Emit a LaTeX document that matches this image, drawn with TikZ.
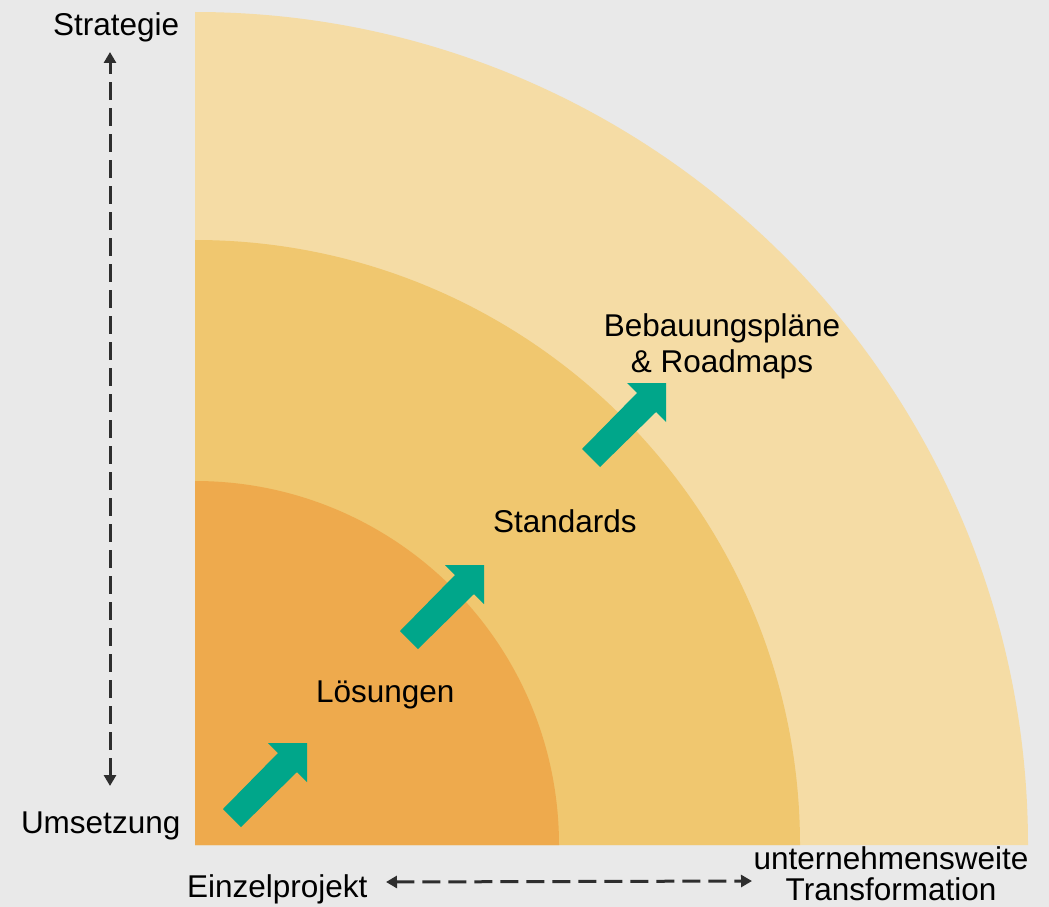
\documentclass[tikz,border=0pt]{standalone}
\usepackage{fontspec}
\setmainfont{Liberation Sans}
\usetikzlibrary{arrows.meta}
\definecolor{bgc}{HTML}{E9E9E9}
\definecolor{ringouter}{HTML}{F5DCA5}
\definecolor{ringmid}{HTML}{F0C76F}
\definecolor{ringinner}{HTML}{EEAA4D}
\definecolor{arrowteal}{HTML}{00A68A}
\definecolor{axisgray}{HTML}{2E2E2E}
\tikzset{
  lbl/.style={inner sep=0pt, outer sep=0pt, anchor=base west, font=\fontsize{31.5}{37}\selectfont},
  lblc/.style={lbl, anchor=base},
  axis/.style={draw=axisgray, line width=3pt, dash pattern=on 18pt off 8pt,
    {Triangle[length=11pt,width=12pt]}-{Triangle[length=11pt,width=12pt]}},
  growarrow/.pic={
    \fill[arrowteal] (-84,-66) -- (-29,-10) -- (-39,0) -- (0,0) -- (0,-39)
      -- (-10,-29) -- (-66,-84) -- cycle;
  }
}
\begin{document}
\begin{tikzpicture}[x=1pt,y=1pt]
  % canvas
  \fill[bgc] (0,0) rectangle (1049,-907);
  \useasboundingbox (0,0) rectangle (1049,-907);

  % nested quarter discs around the corner
  \coordinate (O) at (195,-845);
  \fill[ringouter] (O) -- ++(833,0) arc[start angle=0,end angle=90,radius=833] -- cycle;
  \fill[ringmid]   (O) -- ++(605,0) arc[start angle=0,end angle=90,radius=605] -- cycle;
  \fill[ringinner] (O) -- ++(364,0) arc[start angle=0,end angle=90,radius=364] -- cycle;

  % growth arrows
  \pic at (307,-743) {growarrow};
  \pic at (484,-565) {growarrow};
  \pic at (666,-383) {growarrow};

  % ring labels
  \node[lbl] (loes) at (316,-702) {Lösungen};
  \node[lbl] (std) at (493,-532) {Standards};
  \node[lblc] (beb1) at (722,-336) {Bebauungspläne};
  \node[lblc] (beb2) at (722,-372) {\& Roadmaps};

  % axis labels
  \node[lbl] (strat) at (53,-36) {Strategie};
  \node[lbl] (ums) at (21,-833) {Umsetzung};
  \node[lbl] (einz) at (187,-897) {Einzelprojekt};
  \node[lblc] (unt1) at (891,-869) {unternehmensweite};
  \node[lblc] (unt2) at (891,-900) {Transformation};

  % axes
  \coordinate (vtop) at (110,-52);
  \coordinate (vbot) at (110,-786);
  \coordinate (hleft) at (386,-882);
  \coordinate (hright) at (752,-881);
  \draw[axis] (vbot) -- (vtop);
  \draw[axis] (hleft) -- (hright);
\end{tikzpicture}
\end{document}
